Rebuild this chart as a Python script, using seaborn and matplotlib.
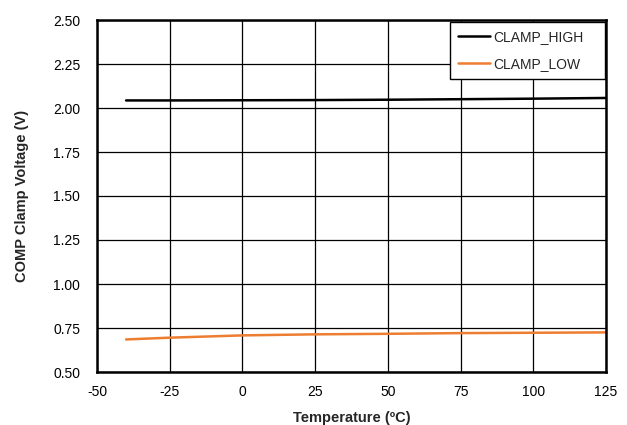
import matplotlib
matplotlib.use("Agg")
import matplotlib.pyplot as plt
import seaborn as sns
import pandas as pd

sns.set_theme(style="white")
plt.rcParams["font.family"] = ["Liberation Sans", "DejaVu Sans"]

temperature = [-40, -25, 0, 25, 50, 75, 100, 125]
clamp_high = [2.043, 2.043, 2.044, 2.045, 2.047, 2.050, 2.053, 2.057]
clamp_low = [0.685, 0.695, 0.708, 0.714, 0.717, 0.721, 0.723, 0.725]
series_names = ["CLAMP_HIGH", "CLAMP_LOW"]
x_ticks = [-50, -25, 0, 25, 50, 75, 100, 125]
y_ticks = [0.50, 0.75, 1.00, 1.25, 1.50, 1.75, 2.00, 2.25, 2.50]

df = pd.concat([
    pd.DataFrame({"T": temperature, "V": clamp_high, "series": series_names[0]}),
    pd.DataFrame({"T": temperature, "V": clamp_low, "series": series_names[1]}),
])

fig = plt.figure(figsize=(6.27, 4.25), dpi=100)
ax = fig.add_axes([97 / 627, 1 - 372 / 425, 509 / 627, 352 / 425])

sns.lineplot(data=df, x="T", y="V", hue="series",
             palette={"CLAMP_HIGH": "black", "CLAMP_LOW": "#ED7D31"},
             linewidth=1.8, ax=ax, legend=True)

ax.set_xlim(-50, 125)
ax.set_ylim(0.5, 2.5)
ax.set_xticks(x_ticks)
ax.set_xticklabels([str(t) for t in x_ticks])
ax.set_yticks(y_ticks)
ax.set_yticklabels([f"{v:.2f}" for v in y_ticks])
ax.grid(True, color="black", linewidth=0.9)
ax.set_axisbelow(True)
for s in ax.spines.values():
    s.set_color("black")
    s.set_linewidth(1.8)
ax.tick_params(axis="both", labelsize=10, colors="black", length=0)
ax.tick_params(axis="x", pad=9)
ax.tick_params(axis="y", pad=12)

ax.set_xlabel("Temperature (ºC)", fontsize=10.5, fontweight="bold", labelpad=9)
ax.set_ylabel("COMP Clamp Voltage (V)", fontsize=10.5, fontweight="bold")
ax.yaxis.set_label_coords(-(97 - 29) / 509, 0.5)

# legend box spans a fixed width in the upper-right corner
handles, labels = ax.get_legend_handles_labels()
leg_w = 155 / 509
leg_h = 56 / 352
leg = ax.legend(handles, labels, loc="upper right",
                bbox_to_anchor=(1 - 1 / 509 - leg_w, 1 - 2 / 352 - leg_h, leg_w, leg_h),
                mode="expand",
                frameon=True, fancybox=False, framealpha=1, edgecolor="black",
                fontsize=10, handlelength=2.3, handletextpad=0.2,
                borderaxespad=0, borderpad=0.6, labelspacing=0.9)
leg.get_frame().set_linewidth(1.0)

fig.savefig("out.png", dpi=100)
